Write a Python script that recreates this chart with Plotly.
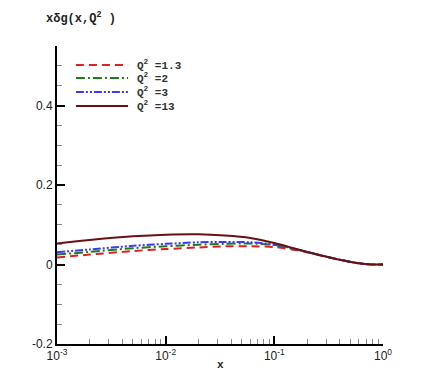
import plotly.graph_objects as go

# x grid and xΔg(x, Q^2) values
x_vals = [1e-3, 2e-3, 5e-3, 1e-2, 2e-2, 3.5e-2, 6e-2, 0.1, 0.17, 0.26, 0.4, 0.6, 0.8, 1.0]
g_q13 = [0.053, 0.062, 0.071, 0.075, 0.076, 0.073, 0.067, 0.054, 0.037, 0.024, 0.012, 0.003, 0.0, 0.0]
g_q3 = [0.031, 0.038, 0.047, 0.052, 0.056, 0.057, 0.056, 0.050, 0.037, 0.024, 0.012, 0.003, 0.0, 0.0]
g_q2 = [0.025, 0.032, 0.041, 0.046, 0.050, 0.052, 0.053, 0.049, 0.036, 0.024, 0.012, 0.003, 0.0, 0.0]
g_q1p3 = [0.018, 0.025, 0.034, 0.039, 0.043, 0.046, 0.046, 0.044, 0.035, 0.023, 0.012, 0.003, 0.0, 0.0]

series_names = ["Q<sup>2</sup> =1.3", "Q<sup>2</sup> =2", "Q<sup>2</sup> =3", "Q<sup>2</sup> =13"]
x_tickvals = [1e-3, 1e-2, 1e-1, 1]
x_ticktext = ["10<sup>-3</sup>", "10<sup>-2</sup>", "10<sup>-1</sup>", "10<sup>0</sup>"]
x_minor = [m * 10.0 ** e for e in (-3, -2, -1) for m in range(2, 10)]
y_tickvals = [-0.2, 0, 0.2, 0.4]
y_ticktext = ["-0.2", "0", "0.2", "0.4"]

styles = [
    ("#e02020", "8px,5px"),
    ("#1f7a1f", "9px,3px,2px,3px"),
    ("#3a3aff", "8px,2px,2px,2px,2px,2px"),
    ("#6b1010", "solid"),
]

mono = "Liberation Mono, Courier New, monospace"

fig = go.Figure()
for name, ys, (color, dash) in zip(series_names, [g_q1p3, g_q2, g_q3, g_q13], styles):
    fig.add_trace(go.Scatter(
        x=x_vals, y=ys, mode="lines", name=name, showlegend=False,
        line=dict(color=color, dash=dash, width=2, shape="spline", smoothing=0.8),
    ))

# hand-drawn legend (Tecplot style: long samples, tight rows)
legend_y = [0.936, 0.893, 0.846, 0.799]
for name, ly, (color, dash) in zip(series_names, legend_y, styles):
    fig.add_shape(
        type="line", xref="paper", yref="paper", x0=0.058, x1=0.218, y0=ly, y1=ly,
        line=dict(color=color, dash=dash, width=2),
    )
    fig.add_annotation(
        text=f"<b>{name}</b>", xref="paper", yref="paper", x=0.24, y=ly,
        xanchor="left", yanchor="middle", showarrow=False,
        font=dict(family=mono, size=11, color="#333"),
    )

axis_common = dict(
    showgrid=False, zeroline=False, showline=True, linecolor="black", linewidth=2,
    ticks="inside", ticklen=8, tickwidth=2, tickcolor="black", automargin=False,
    tickfont=dict(family="Liberation Sans, Arial", size=12, color="#222"),
)

fig.update_xaxes(
    type="log", range=[-3, 0], tickvals=x_tickvals, ticktext=x_ticktext,
    minor=dict(ticks="inside", ticklen=5, tickcolor="#888", tickwidth=1, tickvals=x_minor, showgrid=False),
    **axis_common,
)
fig.update_yaxes(
    range=[-0.2, 0.55], tickvals=y_tickvals, ticktext=y_ticktext,
    minor=dict(ticks="inside", ticklen=5, tickcolor="#888", tickwidth=1, dtick=0.05, showgrid=False),
    **axis_common,
)

fig.add_annotation(
    text="<b>x\u03b4g(x,Q<sup>2</sup> )</b>", xref="paper", yref="paper",
    x=-0.04, y=1.095, xanchor="left", yanchor="middle", showarrow=False,
    font=dict(family=mono, size=12, color="#222"),
)
fig.add_annotation(
    text="<b>x</b>", xref="paper", yref="paper",
    x=0.5, y=-0.07, xanchor="center", yanchor="middle", showarrow=False,
    font=dict(family=mono, size=11, color="#222"),
)

fig.update_layout(
    width=436, height=388,
    margin=dict(l=49, r=61, t=38, b=52),
    paper_bgcolor="white", plot_bgcolor="white",
    showlegend=False,
)

fig.write_html("out.html")
